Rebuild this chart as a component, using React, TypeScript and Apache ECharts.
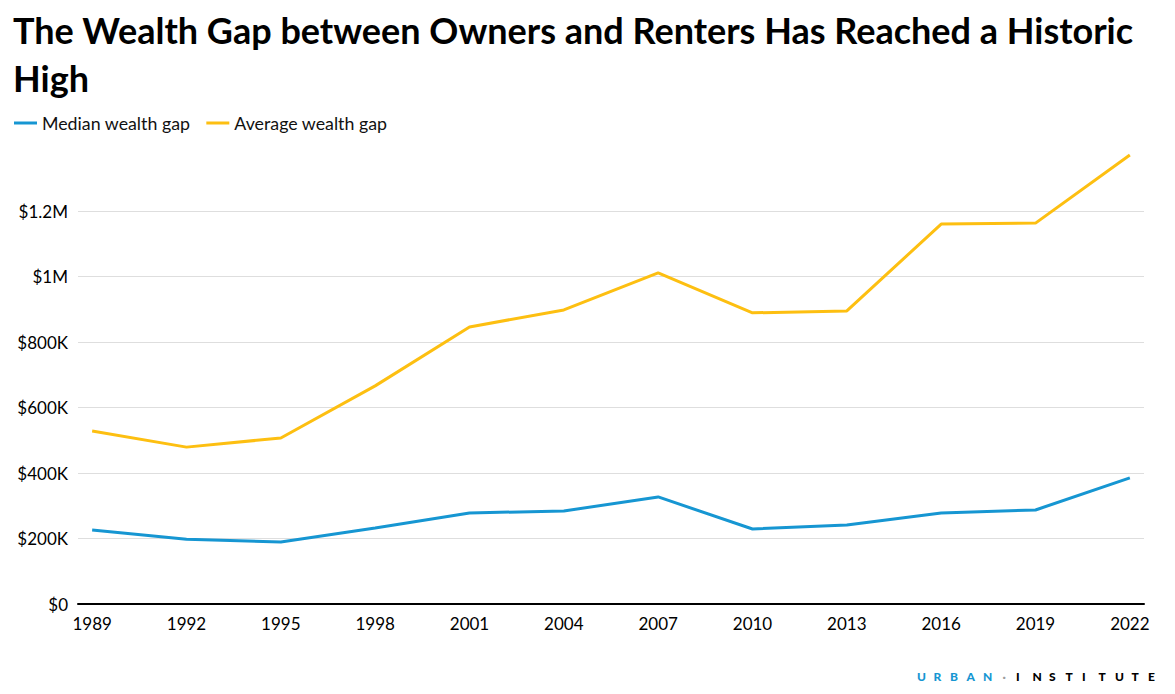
import React, { useEffect, useRef } from "react";
import * as echarts from "echarts";

const titleText = "The Wealth Gap between Owners and Renters Has Reached a Historic\nHigh";
const years = [1989, 1992, 1995, 1998, 2001, 2004, 2007, 2010, 2013, 2016, 2019, 2022];
const medianGap = [226000, 198000, 189000, 232000, 278000, 284000, 327000, 229000, 241000, 278000, 287000, 385000];
const averageGap = [528000, 479000, 507000, 666000, 846000, 898000, 1011000, 889000, 895000, 1160000, 1163000, 1371000];
const seriesNames = ["Median wealth gap", "Average wealth gap"];
const colors = ["#1696d2", "#fdbf11"];
const logoLeft = "URBAN";
const logoRight = "INSTITUTE";

function fmtY(v: number): string {
  if (v === 0) return "$0";
  if (v < 1000000) return "$" + v / 1000 + "K";
  return "$" + v / 1000000 + "M";
}

export default function App() {
  const ref = useRef<HTMLDivElement>(null);
  useEffect(() => {
    if (!ref.current) return;
    const chart = echarts.init(ref.current, undefined, { renderer: "svg" });
    const font = "Lato, 'Noto Sans', sans-serif";

    const logoChars = (logoLeft + "·" + logoRight).split("");
    const pitch = 16.5;
    const logoElems = logoChars.map((ch, i) => ({
      type: "text",
      left: 917 + i * pitch + (ch === "·" ? 3 : 0),
      top: 670,
      style: {
        text: ch,
        fill: i < logoLeft.length ? "#1696d2" : ch === "·" ? "#9d9d9d" : "#000000",
        font: "900 12px Lato, 'DejaVu Sans', sans-serif",
      },
    }));

    chart.setOption({
      animation: false,
      textStyle: { fontFamily: font },
      title: {
        text: titleText,
        left: 8,
        top: 1,
        textStyle: {
          fontFamily: font,
          fontWeight: "bold",
          fontSize: 36,
          lineHeight: 48,
          color: "#000000",
        },
      },
      legend: {
        left: 9,
        top: 109,
        icon: "rect",
        itemWidth: 23,
        itemHeight: 3,
        itemGap: 16,
        textStyle: { fontFamily: font, fontSize: 17.8, color: "#111111" },
        data: seriesNames,
      },
      grid: { left: 78, right: 31, top: 145.5, bottom: 90, containLabel: false },
      xAxis: {
        type: "value",
        min: 1988.55,
        max: 2022.45,
        axisLine: { show: true, lineStyle: { color: "#000000", width: 2 } },
        axisTick: { show: false },
        splitLine: { show: false },
        axisLabel: {
          customValues: years,
          fontFamily: font,
          fontSize: 17,
          color: "#000000",
          margin: 11,
          formatter: (v: number) => String(v),
        },
      },
      yAxis: {
        type: "value",
        min: 0,
        max: 1400000,
        interval: 200000,
        axisLine: { show: false },
        axisTick: { show: false },
        splitLine: { show: true, showMaxLine: false, lineStyle: { color: "#dedede", width: 1 } },
        axisLabel: {
          showMaxLabel: false,
          fontFamily: font,
          fontSize: 17,
          color: "#000000",
          margin: 10,
          formatter: fmtY,
        },
      },
      series: [
        {
          name: seriesNames[0],
          type: "line",
          data: years.map((y, i) => [y, medianGap[i]]),
          symbol: "none",
          lineStyle: { color: colors[0], width: 3 },
          itemStyle: { color: colors[0] },
          z: 3,
        },
        {
          name: seriesNames[1],
          type: "line",
          data: years.map((y, i) => [y, averageGap[i]]),
          symbol: "none",
          lineStyle: { color: colors[1], width: 3 },
          itemStyle: { color: colors[1] },
          z: 3,
        },
      ],
      graphic: logoElems,
    });
    return () => chart.dispose();
  }, []);
  return (
    <div
      ref={ref}
      style={{ position: "fixed", left: 0, top: 0, width: 1175, height: 694, background: "#ffffff" }}
    />
  );
}
